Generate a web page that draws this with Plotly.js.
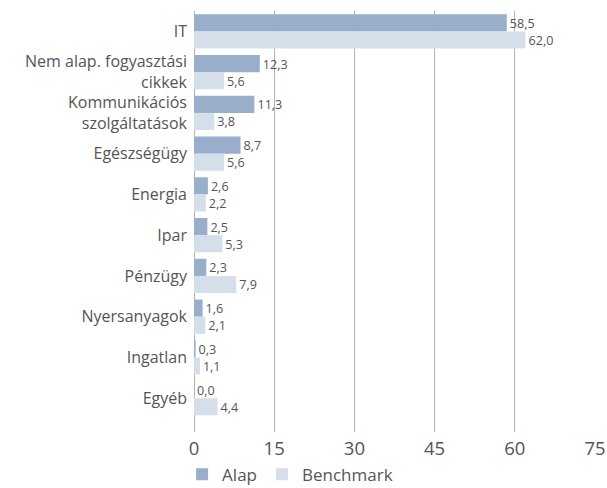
<!DOCTYPE html>
<html><head><meta charset="utf-8">
<script src="https://cdn.plot.ly/plotly-3.0.1.min.js"></script>
<style>html,body{margin:0;padding:0;background:#fff}#chart{width:607px;height:488px}</style>
</head><body><div id="chart"></div>
<script>
const categories = ["IT","Nem alap. fogyasztási<br>cikkek","Kommunikációs<br>szolgáltatások","Egészségügy","Energia","Ipar","Pénzügy","Nyersanyagok","Ingatlan","Egyéb"];
const alap = [58.5,12.3,11.3,8.7,2.6,2.5,2.3,1.6,0.3,0.0];
const benchmark = [62.0,5.6,3.8,5.6,2.2,5.3,7.9,2.1,1.1,4.4];
const xTicks = [0,15,30,45,60,75];

const fmt = v => v.toFixed(1).replace('.', ',');
const FONT = '"Open Sans", sans-serif';
const TXT = '#555555';

const traces = [
  {name:'Alap', type:'bar', orientation:'h', y:categories, x:alap,
   marker:{color:'#98aecb'}, text:alap.map(fmt), textposition:'outside',
   textfont:{family:FONT,size:14,color:TXT}, cliponaxis:false, hoverinfo:'skip'},
  {name:'Benchmark', type:'bar', orientation:'h', y:categories, x:benchmark,
   marker:{color:'#d4dfea'}, text:benchmark.map(fmt), textposition:'outside',
   textfont:{family:FONT,size:14,color:TXT}, cliponaxis:false, hoverinfo:'skip'}
];

const layout = {
  width:607, height:488,
  margin:{l:194, r:12, t:11, b:56},
  barmode:'group', bargap:0.16, bargroupgap:0,
  font:{family:FONT, color:TXT},
  paper_bgcolor:'#fff', plot_bgcolor:'#fff',
  xaxis:{range:[0,75], tickvals:xTicks, ticktext:xTicks.map(String),
    showgrid:true, gridcolor:'#b3b3b3', gridwidth:1, zeroline:true, zerolinecolor:'#b3b3b3',
    tickfont:{size:18.5, color:TXT}, showline:false, ticks:'', ticklabelstandoff:3},
  yaxis:{type:'category', range:[9.83,-0.5], tickfont:{size:16, color:TXT},
    showgrid:false, zeroline:false, showline:false, ticks:'', ticklabelstandoff:6},
  showlegend:true,
  legend:{orientation:'h', xref:'container', yref:'container', x:0.3, xanchor:'left', y:0.064, yanchor:'top',
    font:{size:17, color:TXT}, traceorder:'normal', itemwidth:30},
};

Plotly.newPlot('chart', traces, layout, {displayModeBar:false, staticPlot:true});
</script></body></html>
